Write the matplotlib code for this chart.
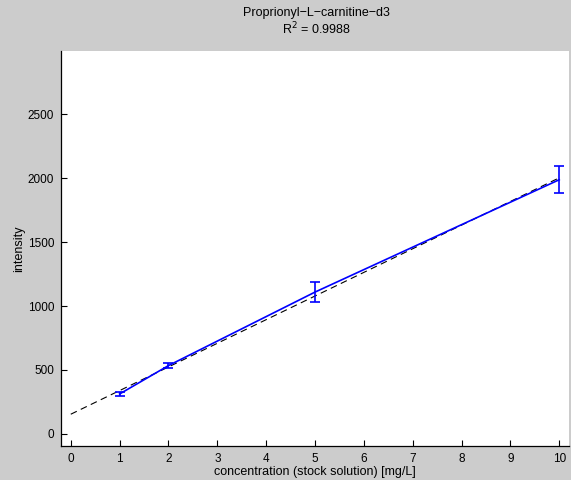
import numpy as np
import matplotlib
matplotlib.use("Agg")
import matplotlib.pyplot as plt

plt.rcParams['font.family'] = ['Liberation Sans', 'DejaVu Sans']

# calibration data
concentration = [1, 2, 5, 10]
intensity = [312, 534, 1109, 1988]
intensity_err = [15, 18, 78, 105]
r_squared = 0.9988
compound = "Proprionyl\u2212L\u2212carnitine\u2212d3"

x_ticks = [0, 1, 2, 3, 4, 5, 6, 7, 8, 9, 10]
y_ticks = [0, 500, 1000, 1500, 2000, 2500]

fig = plt.figure(figsize=(5.71, 4.80), dpi=100, facecolor='#cccccc')
ax = fig.add_axes([61 / 571, 34 / 480, 508 / 571, 395 / 480])
ax.set_facecolor('white')

# linear regression of the calibration points
slope, intercept = np.polyfit(concentration, intensity, 1)
xf = np.array([0, 10])
ax.plot(xf, slope * xf + intercept, color='black', linestyle=(0, (6, 4)),
        linewidth=0.8, zorder=2)

ax.errorbar(concentration, intensity, yerr=intensity_err, color=(0, 0, 1),
            linewidth=1.2, elinewidth=1.2, capsize=3.7, capthick=1.2, zorder=3)

ax.set_xlim(-0.2, 10.2)
ax.set_ylim(-95, 2995)
ax.set_xticks(x_ticks)
ax.set_yticks(y_ticks)
ax.tick_params(direction='in', length=4, width=0.8, labelsize=8.5, pad=5)
for side in ('top', 'right'):
    ax.spines[side].set_visible(False)
for side in ('left', 'bottom'):
    ax.spines[side].set_linewidth(0.9)

ax.set_xlabel("concentration (stock solution) [mg/L]", fontsize=9, labelpad=1)
ax.set_ylabel("intensity", fontsize=9, labelpad=2)

fig.text(316 / 571, 1 - 13 / 480, compound, ha='center', va='center', fontsize=9)
fig.text(316 / 571, 1 - 29 / 480, "R$^2$ = %.4f" % r_squared, ha='center',
         va='center', fontsize=9)

fig.savefig("out.png", dpi=100, facecolor=fig.get_facecolor())
